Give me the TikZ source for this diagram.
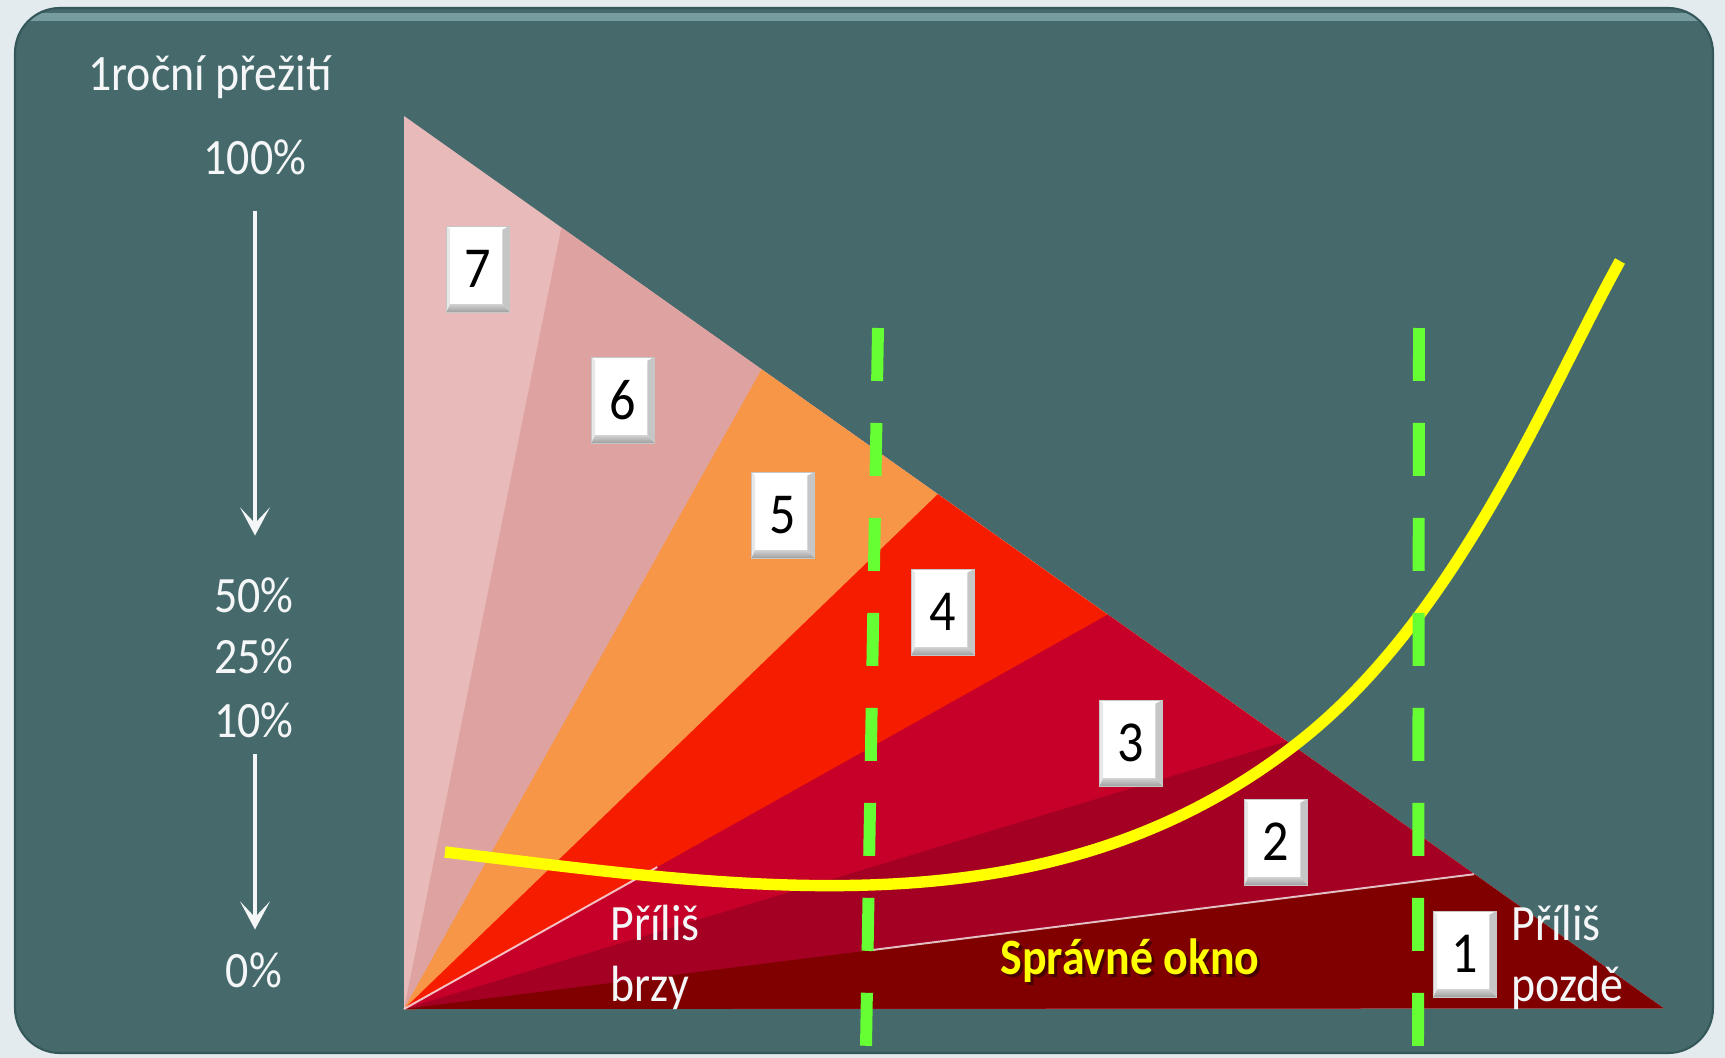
\documentclass[tikz,border=0pt]{standalone}
\usepackage{fontspec}
\setmainfont{Carlito}[FakeStretch=0.9]
\usetikzlibrary{arrows.meta,calc}

\definecolor{paper}{HTML}{E3EBEE}
\definecolor{panel}{HTML}{466A6C}
\definecolor{rimlight}{HTML}{769C9F}
\definecolor{rimdark}{HTML}{34575A}
\definecolor{zone7}{HTML}{E8BBBA}
\definecolor{zone6}{HTML}{DEA3A1}
\definecolor{zone5}{HTML}{F79646}
\definecolor{zone4}{HTML}{F61C00}
\definecolor{zone3}{HTML}{C60028}
\definecolor{zone2}{HTML}{A40024}
\definecolor{zone1}{HTML}{800000}
\definecolor{optimum}{HTML}{FFFF00}
\definecolor{window}{HTML}{66FF33}
\definecolor{chalk}{HTML}{F4F6F7}

\begin{document}
\begin{tikzpicture}[
    x=0.02cm, y=-0.02cm,
    font=\fontsize{29}{35}\selectfont,
    survtext/.style={text=chalk, inner sep=0pt, anchor=base},
    pcttext/.style={survtext, text height=18pt, text depth=0pt},
    sidetext/.style={survtext, anchor=base west},
    drop/.style={draw=chalk, line width=2.3pt,
                 -{Stealth[length=16pt, width=17pt, inset=9pt]}},
    seam/.style={line width=1.1pt, draw=white, opacity=0.75},
    windowline/.style={draw=window, line width=6.8pt,
                       dash pattern=on 1.06cm off 0.84cm},
    optimumline/.style={draw=optimum, line width=6.5pt},
    numbox/.style={minimum width=1.26cm, minimum height=1.72cm, inner sep=0pt,
      fill=white, draw=gray!45, line width=0.4pt,
      font=\fontsize{33}{36}\selectfont,
      path picture={
        \fill[gray!18] (path picture bounding box.south west)
          -- (path picture bounding box.north west)
          -- ([shift={(2pt,-2pt)}]path picture bounding box.north west)
          -- ([shift={(2pt,4.5pt)}]path picture bounding box.south west) -- cycle;
        \fill[gray!45] (path picture bounding box.south east)
          -- (path picture bounding box.north east)
          -- ([shift={(-4pt,-2pt)}]path picture bounding box.north east)
          -- ([shift={(-4pt,4.5pt)}]path picture bounding box.south east) -- cycle;
        \shade[top color=gray!35, bottom color=gray!75]
          (path picture bounding box.south west)
          -- (path picture bounding box.south east)
          -- ([shift={(-4pt,4.5pt)}]path picture bounding box.south east)
          -- ([shift={(2pt,4.5pt)}]path picture bounding box.south west) -- cycle;
      }}
  ]
  \useasboundingbox (0,0) rectangle (1725,1058);

  % panel
  \fill[paper] (0,0) rectangle (1725,1058);
  \fill[panel, rounded corners=0.9cm] (15,8) rectangle (1713,1053);
  \begin{scope}
    \clip[rounded corners=0.9cm] (15,8) rectangle (1713,1053);
    \draw[rimlight, line width=4pt] (15,17) -- (1713,17);
  \end{scope}
  \draw[rimdark, line width=1.2pt, rounded corners=0.9cm] (15,8) rectangle (1713,1053);

  % survival axis
  \node[survtext] (title) at (210,90) {1roční přežití};
  \node[pcttext] (pct100) at (255,174) {100\%};
  \node[pcttext] (pct50) at (254,612) {50\%};
  \node[pcttext] (pct25) at (254,673) {25\%};
  \node[pcttext] (pct10) at (254,737) {10\%};
  \node[pcttext] (pct0) at (254,987) {0\%};
  \draw[drop, shorten <=0.74cm, shorten >=0.89cm] (pct100.south) -- (pct50.north -| pct100.south);
  \draw[drop, shorten <=0.34cm, shorten >=0.51cm] (pct10.south -| pct100.south) -- (pct0.north -| pct100.south);

  % risk wedges
  \coordinate (O) at (404,1009);
  \coordinate (A) at (404,116);
  \coordinate (B) at (1663,1008);
  \coordinate (b76) at ($(A)!0.125!(B)$);
  \coordinate (b65) at ($(A)!0.284!(B)$);
  \coordinate (b54) at ($(A)!0.424!(B)$);
  \coordinate (b43) at ($(A)!0.559!(B)$);
  \coordinate (b32) at ($(A)!0.701!(B)$);
  \coordinate (b21) at ($(A)!0.850!(B)$);
  \fill[zone7] (O) -- (A) -- (B) -- cycle;
  \fill[zone6] (O) -- (b76) -- (B) -- cycle;
  \fill[zone5] (O) -- (b65) -- (B) -- cycle;
  \fill[zone4] (O) -- (b54) -- (B) -- cycle;
  \fill[zone3] (O) -- (b43) -- (B) -- cycle;
  \fill[zone2] (O) -- (b32) -- (B) -- cycle;
  \fill[zone1] (O) -- (b21) -- (B) -- cycle;
  \draw[seam] (O) -- ($(O)!0.36!(b43)$);
  \draw[seam] ($(O)!0.435!(b21)$) -- (b21);

  % optimum curve
  \draw[optimumline] (445,852) .. controls (745,888) and (1050,938.5) .. (1300,741)
    .. controls (1460,614.6) and (1550,387) .. (1620,261);

  % transplant window
  \coordinate (earlytop) at (878,328);
  \coordinate (earlyfoot) at (866,1047);
  \coordinate (latetop) at (1419,328);
  \coordinate (latefoot) at (1418,1047);
  \draw[windowline] (earlytop) -- (earlyfoot);
  \draw[windowline] (latetop) -- (latefoot);

  \node[sidetext] (earlya) at (610,940) {Příliš};
  \node[sidetext] (earlyb) at (610,1001) {brzy};
  \node[sidetext] (latea) at (1511,940) {Příliš};
  \node[sidetext] (lateb) at (1511,1001) {pozdě};
  \node[survtext, text=black, opacity=0.45,
        font=\fontsize{29}{35}\selectfont\bfseries] (oknoshade) at (1133,977) {Správné okno};
  \node[survtext, text=optimum,
        font=\fontsize{29}{35}\selectfont\bfseries] (okno) at (1130,974) {Správné okno};

  % score boxes
  \node[numbox] (z7) at (478,269) {7};
  \node[numbox] (z6) at (623,400) {6};
  \node[numbox] (z5) at (783,515) {5};
  \node[numbox] (z4) at (943,612) {4};
  \node[numbox] (z3) at (1131,743) {3};
  \node[numbox] (z2) at (1276,842) {2};
  \node[numbox] (z1) at (1465,954) {1};
\end{tikzpicture}
\end{document}
